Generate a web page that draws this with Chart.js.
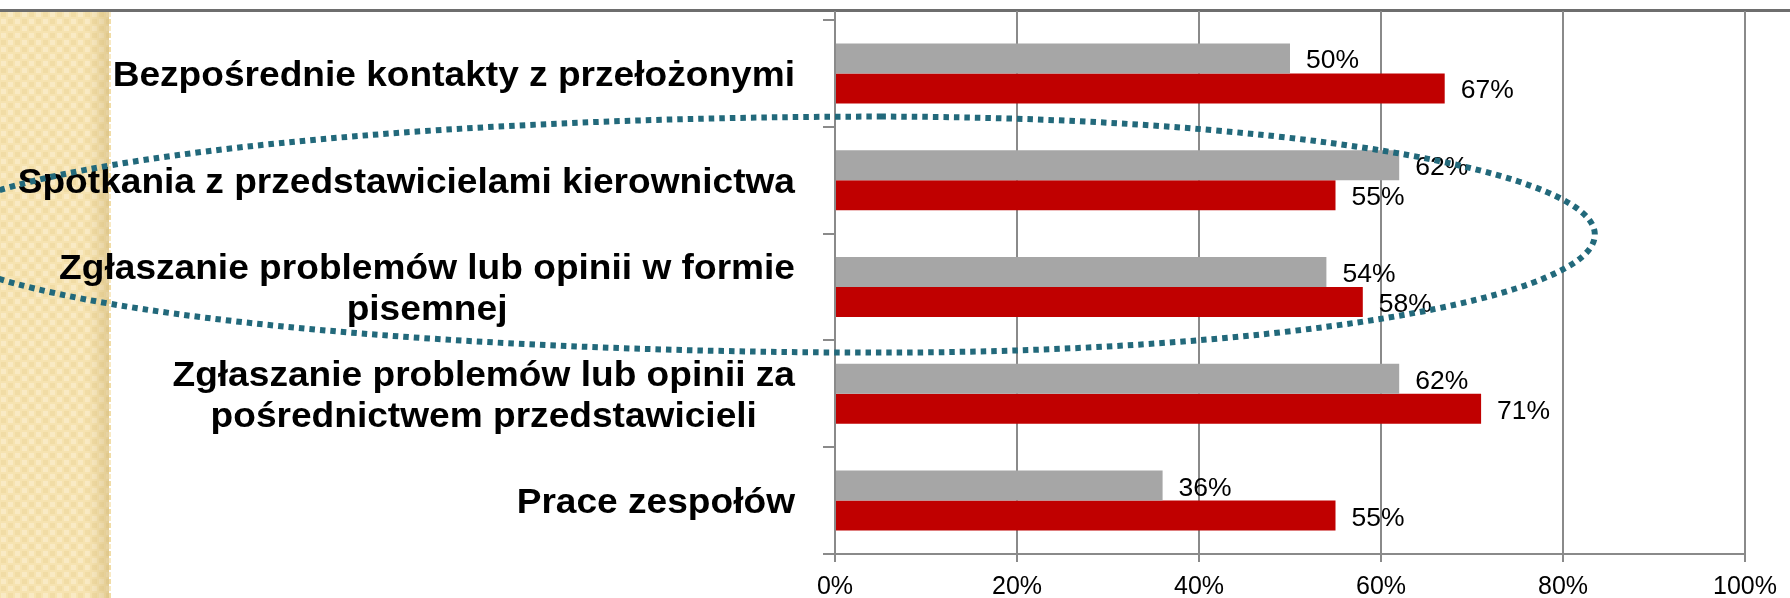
<!DOCTYPE html>
<html>
<head>
<meta charset="utf-8">
<script src="https://cdn.jsdelivr.net/npm/chart.js@4.4.1/dist/chart.umd.min.js"></script>
<style>
  html, body { margin: 0; padding: 0; background: #fff; }
  #wrap { width: 1790px; height: 598px; }
</style>
</head>
<body>
<div id="wrap"><canvas id="chart" width="1790" height="598"></canvas></div>
<script>
// data
const categories = [
  ['Bezpośrednie kontakty z przełożonymi'],
  ['Spotkania z przedstawicielami kierownictwa'],
  ['Zgłaszanie problemów lub opinii w formie', 'pisemnej'],
  ['Zgłaszanie problemów lub opinii za', 'pośrednictwem przedstawicieli'],
  ['Prace zespołów']
];
const seriesGray = [50, 62, 54, 62, 36];
const seriesRed = [67, 55, 58, 71, 55];
const xTicks = [0, 20, 40, 60, 80, 100];

const FONT = '"Liberation Sans", Arial, sans-serif';
const GRID = '#8a8a8a';
// the source slide is a bit wider than tall, text looks stretched
const STRETCH = 1.06;

function stretchedText(ctx, text, x, y, align) {
    ctx.save();
    ctx.translate(x, y);
    ctx.scale(STRETCH, 1);
    ctx.textAlign = align;
    ctx.fillText(text, 0, 0);
    ctx.restore();
}

// slide background: beige strip on the left and grey rule on top
const slideBackground = {
    id: 'slideBackground',
    beforeDraw(chart) {
        const ctx = chart.ctx;
        ctx.save();
        ctx.fillStyle = '#ffffff';
        ctx.fillRect(0, 0, chart.width, chart.height);

        const stripW = 109;
        ctx.fillStyle = '#f6e3b1';
        ctx.fillRect(0, 11, stripW, chart.height - 11);
        const cell = 7;
        for (let yy = 11; yy < chart.height; yy += cell) {
            for (let xx = 0; xx < stripW; xx += cell) {
                const odd = ((xx + yy) / cell) % 2 < 1;
                ctx.fillStyle = odd ? '#f9eac4' : '#f1dca5';
                ctx.fillRect(xx + 1, yy + 1, cell - 2, cell - 2);
            }
        }
        const g = ctx.createLinearGradient(88, 0, stripW, 0);
        g.addColorStop(0, 'rgba(190,160,90,0)');
        g.addColorStop(1, 'rgba(190,160,90,0.35)');
        ctx.fillStyle = g;
        ctx.fillRect(88, 11, stripW - 88, chart.height - 11);

        ctx.strokeStyle = '#6e6e6e';
        ctx.lineWidth = 3;
        ctx.beginPath();
        ctx.moveTo(0, 10.5);
        ctx.lineTo(chart.width, 10.5);
        ctx.stroke();
        ctx.restore();
    },
    beforeDatasetsDraw(chart) {
        // vertical grid lines run up to the top rule
        const {ctx, chartArea, scales: {x}} = chart;
        ctx.save();
        ctx.strokeStyle = GRID;
        ctx.lineWidth = 2;
        xTicks.forEach(v => {
            const px = Math.round(x.getPixelForValue(v));
            ctx.beginPath();
            ctx.moveTo(px, 11);
            ctx.lineTo(px, chartArea.top + 1);
            ctx.stroke();
        });
        ctx.restore();
    }
};

// category labels: block right aligned, lines centred inside the block
const categoryLabels = {
    id: 'categoryLabels',
    afterDatasetsDraw(chart) {
        const {ctx, scales: {y}} = chart;
        const right = y.right - 40;
        ctx.save();
        ctx.font = 'bold 35px ' + FONT;
        ctx.fillStyle = '#000';
        ctx.textBaseline = 'alphabetic';
        categories.forEach((lines, i) => {
            const cy = y.getPixelForValue(i);
            const w = Math.max(...lines.map(l => ctx.measureText(l).width)) * STRETCH;
            lines.forEach((line, j) => {
                const base = cy + 12.5 + (j - (lines.length - 1) / 2) * 41;
                stretchedText(ctx, line, right - w / 2, base, 'center');
            });
        });

        // value labels next to the bars
        ctx.font = '25px ' + FONT;
        chart.data.datasets.forEach((ds, di) => {
            chart.getDatasetMeta(di).data.forEach((bar, i) => {
                stretchedText(ctx, ds.data[i] + '%', bar.x + 16, bar.y + 10, 'left');
            });
        });
        ctx.restore();
    }
};

// dotted oval drawn over the chart around the 2nd and 3rd category
const dottedOval = {
    id: 'dottedOval',
    afterDraw(chart) {
        const {ctx, scales: {x, y}} = chart;
        const cy = (y.getPixelForValue(1) + y.getPixelForValue(2)) / 2 + 1;
        const cx = x.getPixelForValue(5);
        const rxRight = x.getPixelForValue(83.5) - cx;
        const rxLeft = cx - x.getPixelForValue(-99.5);
        const ry = 118;
        ctx.save();
        ctx.strokeStyle = '#22697b';
        ctx.lineWidth = 6;
        ctx.setLineDash([5.5, 5]);
        ctx.beginPath();
        ctx.ellipse(cx, cy, rxRight, ry, 0, -Math.PI / 2, Math.PI / 2);
        ctx.ellipse(cx, cy, rxLeft, ry, 0, Math.PI / 2, Math.PI * 1.5);
        ctx.stroke();
        ctx.restore();
    }
};

new Chart(document.getElementById('chart'), {
    type: 'bar',
    data: {
        labels: categories,
        datasets: [{
            label: 'Seria 1',
            data: seriesGray,
            backgroundColor: '#a6a6a6'
        }, {
            label: 'Seria 2',
            data: seriesRed,
            backgroundColor: '#c00000'
        }]
    },
    options: {
        indexAxis: 'y',
        responsive: false,
        animation: false,
        events: [],
        devicePixelRatio: 1,
        layout: { padding: { top: 20, right: 45, left: 0, bottom: 0 } },
        datasets: {
            bar: { barPercentage: 1, categoryPercentage: 0.562 }
        },
        plugins: {
            legend: { display: false },
            tooltip: { enabled: false }
        },
        scales: {
            x: {
                min: 0,
                max: 100,
                afterBuildTicks: s => { s.ticks = xTicks.map(v => ({ value: v })); },
                afterFit: s => { s.height = 44; },
                ticks: {
                    callback: v => v + '%',
                    color: '#000',
                    font: { family: FONT, size: 25 },
                    padding: 10,
                    maxRotation: 0
                },
                grid: { color: GRID, lineWidth: 2, tickLength: 8 },
                border: { color: GRID, width: 2 }
            },
            y: {
                afterFit: s => { s.width = 835; },
                ticks: { display: false },
                grid: { drawOnChartArea: false, color: GRID, lineWidth: 2, tickLength: 12 },
                border: { color: GRID, width: 2 }
            }
        }
    },
    plugins: [slideBackground, categoryLabels, dottedOval]
});
</script>
</body>
</html>
